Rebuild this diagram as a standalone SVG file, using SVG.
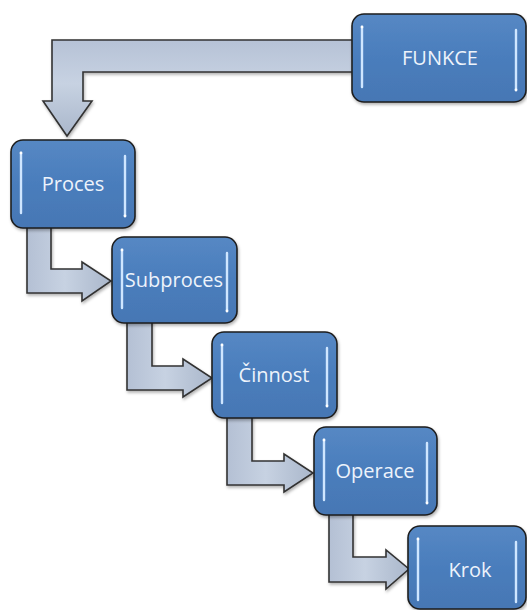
<svg xmlns="http://www.w3.org/2000/svg" width="527" height="610" viewBox="0 0 527 610">
  <defs>
    <linearGradient id="boxFill" x1="0" y1="0" x2="0" y2="1">
      <stop offset="0" stop-color="#5688c4"/>
      <stop offset="0.5" stop-color="#4a7dbc"/>
      <stop offset="1" stop-color="#4677b4"/>
    </linearGradient>
    <linearGradient id="arrowFillH" x1="0" y1="0" x2="0" y2="1">
      <stop offset="0" stop-color="#b6c2d6"/>
      <stop offset="0.45" stop-color="#c7d2e2"/>
      <stop offset="1" stop-color="#aab7cb"/>
    </linearGradient>
    <linearGradient id="arrowFillV" x1="0" y1="0" x2="1" y2="0">
      <stop offset="0" stop-color="#b4c0d4"/>
      <stop offset="0.45" stop-color="#c7d2e2"/>
      <stop offset="1" stop-color="#aab7cb"/>
    </linearGradient>
    <filter id="shadow" x="-10%" y="-10%" width="125%" height="130%">
      <feDropShadow dx="1" dy="2" stdDeviation="1.5" flood-color="#000" flood-opacity="0.3"/>
    </filter>
  </defs>
  <style>
    .box { fill: url(#boxFill); stroke: #1e1e1e; stroke-width: 1.6; filter: url(#shadow); }
    .shine { stroke: #cfe6ff; stroke-width: 2.4; stroke-linecap: round; }
    .dot { fill: #ffffff; }
    .arrow { stroke: #333333; stroke-width: 1.6; stroke-linejoin: miter; filter: url(#shadow); }
    .label { font-family: "Open Sans", "Liberation Sans", sans-serif; font-size: 20px; fill: #edf3fb; text-anchor: middle; }
  </style>

  <g id="connectors">
    <path class="arrow" fill="url(#arrowFillH)" d="M 354 40 H 52 V 101 H 43 L 67 136 L 92 101 H 83 V 72 H 354 Z"/>
    <path class="arrow" fill="url(#arrowFillV)" d="M 27 226 V 293 H 82 V 301 L 111 281 L 82 262 V 269 H 51 V 226 Z"/>
    <path class="arrow" fill="url(#arrowFillV)" d="M 127 321 V 390 H 183 V 397 L 212 378 L 183 359 V 366 H 152 V 321 Z"/>
    <path class="arrow" fill="url(#arrowFillV)" d="M 227 416 V 485 H 284 V 492 L 313 473 L 284 454 V 461 H 252 V 416 Z"/>
    <path class="arrow" fill="url(#arrowFillV)" d="M 329 513 V 582 H 386 V 589 L 409 569 L 386 550 V 557 H 353 V 513 Z"/>
  </g>

  <g id="node-funkce">
    <rect class="box" x="352" y="14" width="174" height="88" rx="12"/>
    <line class="shine" x1="362" y1="27" x2="362" y2="87"/>
    <line class="shine" x1="516" y1="30" x2="516" y2="90"/>
    <circle class="dot" cx="362" cy="27" r="1.4"/>
    <circle class="dot" cx="516" cy="90" r="1.4"/>
    <text class="label" x="440" y="65">FUNKCE</text>
  </g>

  <g id="node-proces">
    <rect class="box" x="11" y="140" width="124" height="88" rx="12"/>
    <line class="shine" x1="21" y1="153" x2="21" y2="213"/>
    <line class="shine" x1="125" y1="156" x2="125" y2="216"/>
    <circle class="dot" cx="21" cy="153" r="1.4"/>
    <circle class="dot" cx="125" cy="216" r="1.4"/>
    <text class="label" x="73" y="191">Proces</text>
  </g>

  <g id="node-subproces">
    <rect class="box" x="112" y="237" width="125" height="86" rx="12"/>
    <line class="shine" x1="122" y1="250" x2="122" y2="308"/>
    <line class="shine" x1="227" y1="253" x2="227" y2="311"/>
    <circle class="dot" cx="122" cy="250" r="1.4"/>
    <circle class="dot" cx="227" cy="311" r="1.4"/>
    <text class="label" x="174" y="287">Subproces</text>
  </g>

  <g id="node-cinnost">
    <rect class="box" x="212" y="332" width="125" height="86" rx="12"/>
    <line class="shine" x1="222" y1="345" x2="222" y2="403"/>
    <line class="shine" x1="327" y1="348" x2="327" y2="406"/>
    <circle class="dot" cx="222" cy="345" r="1.4"/>
    <circle class="dot" cx="327" cy="406" r="1.4"/>
    <text class="label" x="274" y="382">Činnost</text>
  </g>

  <g id="node-operace">
    <rect class="box" x="314" y="427" width="123" height="88" rx="12"/>
    <line class="shine" x1="324" y1="440" x2="324" y2="500"/>
    <line class="shine" x1="427" y1="443" x2="427" y2="503"/>
    <circle class="dot" cx="324" cy="440" r="1.4"/>
    <circle class="dot" cx="427" cy="503" r="1.4"/>
    <text class="label" x="375" y="478">Operace</text>
  </g>

  <g id="node-krok">
    <rect class="box" x="408" y="526" width="118" height="83" rx="12"/>
    <line class="shine" x1="418" y1="539" x2="418" y2="600"/>
    <line class="shine" x1="516" y1="542" x2="516" y2="602"/>
    <circle class="dot" cx="418" cy="539" r="1.4"/>
    <text class="label" x="470" y="577">Krok</text>
  </g>
</svg>
